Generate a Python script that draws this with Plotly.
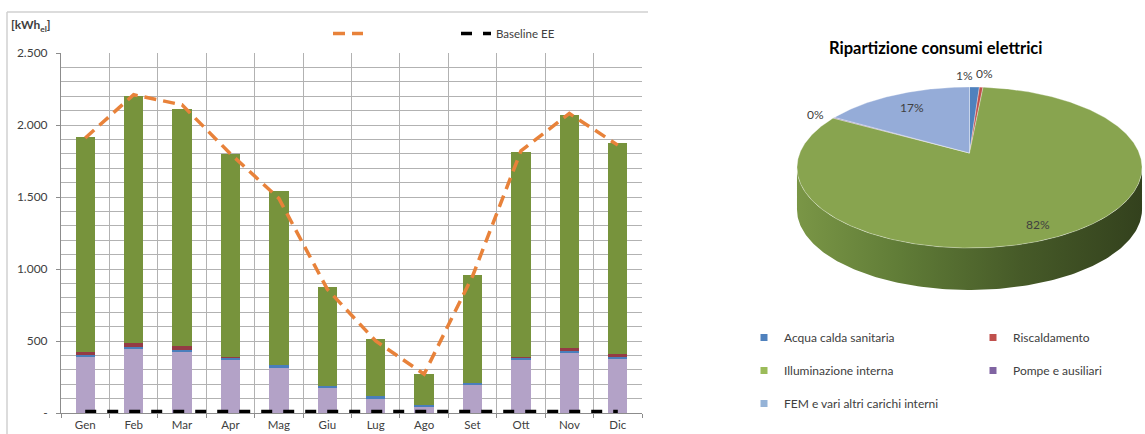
import numpy as np
import plotly.graph_objects as go

# ---------------- data ----------------
months = ["Gen", "Feb", "Mar", "Apr", "Mag", "Giu", "Lug", "Ago", "Set", "Ott", "Nov", "Dic"]
fem_bar = [390, 450, 430, 370, 315, 175, 100, 48, 195, 370, 420, 380]
acqua_bar = [12, 8, 8, 15, 18, 15, 15, 5, 15, 15, 10, 8]
risc_bar = [22, 25, 25, 5, 0, 0, 0, 0, 0, 3, 22, 22]
illum_bar = [1496, 1717, 1647, 1410, 1212, 685, 400, 217, 745, 1427, 1618, 1465]
total_line = [1910, 2210, 2140, 1800, 1490, 860, 500, 270, 950, 1820, 2080, 1860]
baseline_ee = [10, 10, 10, 10, 10, 10, 10, 10, 10, 10, 10, 10]
y_tickvals = [0, 500, 1000, 1500, 2000, 2500]
y_ticktext = ["-", "500", "1.000", "1.500", "2.000", "2.500"]

pie_labels = ["Acqua calda sanitaria", "Riscaldamento", "Illuminazione interna",
              "Pompe e ausiliari", "FEM e vari altri carichi interni"]
pie_values = [1.1, 0.4, 81.6, 0.2, 16.7]

# ---------------- styling ----------------
W, H = 1145, 434
FONT = "Lato, Open Sans, sans-serif"
TXT = "#404040"
GRID = "#B2B2B2"
AXIS = "#8C8C8C"
bar_colors = {"fem": "#B3A2C7", "acqua": "#4A7EBB", "risc": "#943B45", "illum": "#77933C"}
pie_colors = ["#4F81BD", "#C0504D", "#88A44F", "#7F63A1", "#95ACD8"]
legend_colors = ["#4F81BD", "#C0504D", "#9BBB59", "#8064A2", "#95B3D7"]


def px_x(x):
    return x / W


def px_y(y):
    return 1 - y / H


fig = go.Figure()

# ---------------- bar chart ----------------
for vals, key in [(fem_bar, "fem"), (acqua_bar, "acqua"), (risc_bar, "risc"), (illum_bar, "illum")]:
    fig.add_trace(go.Bar(x=months, y=vals, marker=dict(color=bar_colors[key], line=dict(width=0)),
                         showlegend=False, xaxis="x", yaxis="y", hoverinfo="skip"))

fig.add_trace(go.Scatter(x=months, y=total_line, mode="lines", name="",
                         line=dict(color="#E8823A", width=3.5, dash="12px,7px"),
                         legend="legend", xaxis="x", yaxis="y"))
fig.add_trace(go.Scatter(x=months, y=baseline_ee, mode="lines", name="Baseline EE",
                         line=dict(color="black", width=3.5, dash="11px,11px"),
                         legend="legend2", xaxis="x", yaxis="y"))

# ---------------- 3D-looking pie ----------------
X0, Y0, A, B, E = 969.5, 153.0, 77.9, 169.7, 0.18
DEPTH = 42


def proj(theta_deg, r=1.0):
    t = np.radians(theta_deg)
    d = 1 + E * r * np.cos(t)
    return X0 + B * r * np.sin(t) / d, Y0 - A * r * np.cos(t) / d


total = float(sum(pie_values))
cum = np.concatenate([[0.0], np.cumsum(pie_values)]) / total * 360.0

# side (front rim)
t_edge = np.degrees(np.arccos(-E))
ts = np.linspace(t_edge, 360 - t_edge, 160)
sx, sy = proj(ts)
side_x = np.concatenate([sx, sx[::-1], sx[:1]])
side_y = np.concatenate([sy, sy[::-1] + DEPTH, sy[:1]])
fig.add_trace(go.Scatter(x=side_x, y=side_y, mode="lines", fill="toself",
                         line=dict(width=0, color="#4A5E2A"),
                         fillgradient=dict(type="horizontal",
                                           colorscale=[[0, "#7A9646"], [0.3, "#607C37"],
                                                       [0.65, "#465A28"], [1, "#33411D"]]),
                         showlegend=False, hoverinfo="skip", xaxis="x2", yaxis="y2"))

# top face slices
for i, v in enumerate(pie_values):
    t1, t2 = cum[i], cum[i + 1]
    n = max(3, int((t2 - t1) * 2))
    tt = np.linspace(t1, t2, n)
    ax_, ay_ = proj(tt)
    xs = np.concatenate([[X0], ax_, [X0]])
    ys = np.concatenate([[Y0], ay_, [Y0]])
    fig.add_trace(go.Scatter(x=xs, y=ys, mode="lines", fill="toself", fillcolor=pie_colors[i],
                             line=dict(width=0.6, color="rgba(255,255,255,0.55)"),
                             showlegend=False, hoverinfo="skip", xaxis="x2", yaxis="y2"))

# legend entries for the pie
legend_of = ["legend3", "legend4", "legend3", "legend4", "legend3"]
for i, lab in enumerate(pie_labels):
    fig.add_trace(go.Scatter(x=[None], y=[None], mode="markers", name=lab,
                             marker=dict(symbol="square", size=7, color=legend_colors[i]),
                             legend=legend_of[i], legendgroup=lab, xaxis="x2", yaxis="y2"))

# percent labels
label_r = [1.22, 1.22, 0.8, 1.15, 0.75]
label_anchor = ["right", "left", "center", "center", "center"]
label_dx = [0, -9, -4, 0, 0]
label_dy = [0, 2, -8, -2, 0]
annotations = []
for i, v in enumerate(pie_values):
    mid = (cum[i] + cum[i + 1]) / 2
    lx, ly = proj(mid, label_r[i])
    annotations.append(dict(x=float(lx), y=float(ly), xref="x2", yref="y2",
                            text=f"{round(v / total * 100):.0f}%", showarrow=False,
                            xanchor=label_anchor[i], yanchor="middle",
                            xshift=label_dx[i], yshift=label_dy[i],
                            font=dict(size=12, color=TXT, family=FONT)))

annotations.append(dict(x=px_x(935), y=px_y(48), xref="paper", yref="paper",
                        text="<b>Ripartizione consumi elettrici</b>", showarrow=False,
                        xanchor="center", yanchor="middle",
                        font=dict(size=16.5, color="black", family=FONT)))
annotations.append(dict(x=px_x(9), y=px_y(25), xref="paper", yref="paper",
                        text="<b>[kWh<sub>el</sub>]</b>", showarrow=False,
                        xanchor="left", yanchor="middle",
                        font=dict(size=12, color=TXT, family=FONT)))

shapes = [
    dict(type="line", xref="paper", yref="paper", x0=px_x(7), x1=px_x(648), y0=px_y(12), y1=px_y(12),
         line=dict(color="#D0D0D0", width=1.5)),
    dict(type="line", xref="paper", yref="paper", x0=px_x(7), x1=px_x(7), y0=px_y(12), y1=0,
         line=dict(color="#D0D0D0", width=1.5)),
]

leg_common = dict(bgcolor="rgba(0,0,0,0)", borderwidth=0, xanchor="left", yanchor="top")

fig.update_layout(
    width=W, height=H,
    margin=dict(l=0, r=0, t=0, b=0, autoexpand=False),
    paper_bgcolor="white", plot_bgcolor="white",
    font=dict(family=FONT, color=TXT),
    barmode="stack", bargap=0.6,
    xaxis=dict(domain=[px_x(61), px_x(642)], type="category", tickson="boundaries",
               showgrid=True, gridcolor=GRID, gridwidth=1,
               ticks="outside", ticklen=4, tickcolor=AXIS,
               showline=True, linecolor=AXIS, linewidth=1, ticklabelstandoff=1,
               tickfont=dict(size=11.5, color=TXT, family=FONT), fixedrange=True),
    yaxis=dict(domain=[px_y(413), px_y(53)], range=[0, 2500],
               tickvals=y_tickvals, ticktext=y_ticktext,
               showgrid=True, gridcolor=GRID, gridwidth=1,
               minor=dict(dtick=100, tick0=0, showgrid=True, gridcolor=GRID, gridwidth=1),
               ticks="outside", ticklen=4, tickcolor=AXIS,
               showline=True, linecolor=AXIS, linewidth=1, zeroline=False,
               ticklabelstandoff=6,
               tickfont=dict(size=12, color=TXT, family=FONT), fixedrange=True),
    xaxis2=dict(domain=[px_x(770), 1.0], range=[770, 1145], visible=False, fixedrange=True),
    yaxis2=dict(domain=[px_y(300), px_y(60)], range=[300, 60], visible=False, fixedrange=True),
    legend=dict(x=px_x(328), y=px_y(19), orientation="h",
                font=dict(size=11.5, color=TXT, family=FONT), **leg_common),
    legend2=dict(x=px_x(456), y=px_y(19), orientation="h",
                 font=dict(size=11.5, color=TXT, family=FONT), **leg_common),
    legend3=dict(x=px_x(744), y=px_y(323), orientation="v", tracegroupgap=14,
                 font=dict(size=12, color=TXT, family=FONT), **leg_common),
    legend4=dict(x=px_x(973), y=px_y(323), orientation="v", tracegroupgap=14,
                 font=dict(size=12, color=TXT, family=FONT), **leg_common),
    annotations=annotations,
    shapes=shapes,
)

fig.write_html("out.html")
